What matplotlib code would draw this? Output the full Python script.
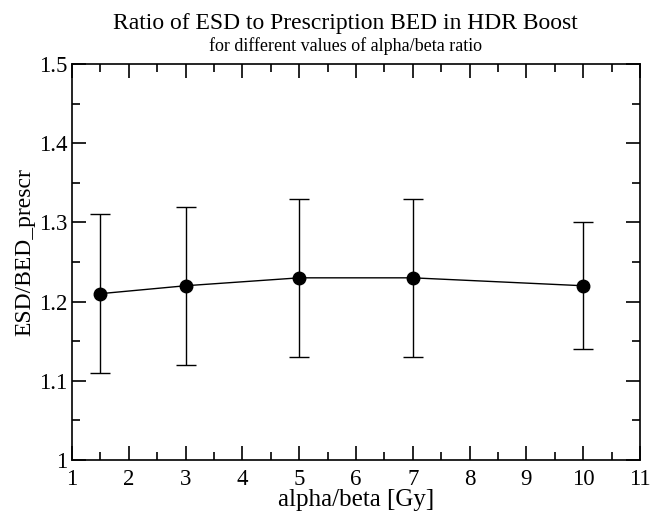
import numpy as np
import matplotlib.pyplot as plt
from matplotlib.ticker import MultipleLocator

# ratio of ESD to prescription BED vs alpha/beta
alpha_beta = [1.5, 3, 5, 7, 10]
ratio = [1.21, 1.22, 1.23, 1.23, 1.22]
err = [0.10, 0.10, 0.10, 0.10, 0.08]

plt.rcParams['font.family'] = ['Liberation Serif', 'DejaVu Serif']

fig = plt.figure(figsize=(6.52, 5.12), dpi=100)
ax = fig.add_axes([0.1104, 0.1016, 0.8712, 0.7734])

ax.errorbar(alpha_beta, ratio, yerr=err, color='black', lw=1, marker='o',
            markersize=9, capsize=7, elinewidth=1, capthick=1)

ax.set_xlim(1, 11)
ax.set_ylim(1, 1.5)
ax.xaxis.set_major_locator(MultipleLocator(1))
ax.xaxis.set_minor_locator(MultipleLocator(0.5))
ax.yaxis.set_major_locator(MultipleLocator(0.1))
ax.yaxis.set_minor_locator(MultipleLocator(0.05))
ax.set_yticks([1, 1.1, 1.2, 1.3, 1.4, 1.5])
ax.set_yticklabels(['1', '1.1', '1.2', '1.3', '1.4', '1.5'])

ax.tick_params(which='both', direction='in', top=True, right=True, labelsize=16.5, width=1.2)
ax.tick_params(which='major', length=10)
ax.tick_params(axis='x', pad=6.5)
ax.tick_params(which='minor', length=6)
for s in ax.spines.values():
    s.set_linewidth(1.2)

ax.set_xlabel('alpha/beta [Gy]', fontsize=18, labelpad=-1)
ax.set_ylabel('ESD/BED_prescr', fontsize=17)
ax.yaxis.set_label_coords(-0.064, 0.525)

fig.text(0.53, 0.955, 'Ratio of ESD to Prescription BED in HDR Boost', ha='center', va='center', fontsize=17)
fig.text(0.53, 0.91, 'for different values of alpha/beta ratio', ha='center', va='center', fontsize=13)

fig.savefig('out.png', dpi=100)
